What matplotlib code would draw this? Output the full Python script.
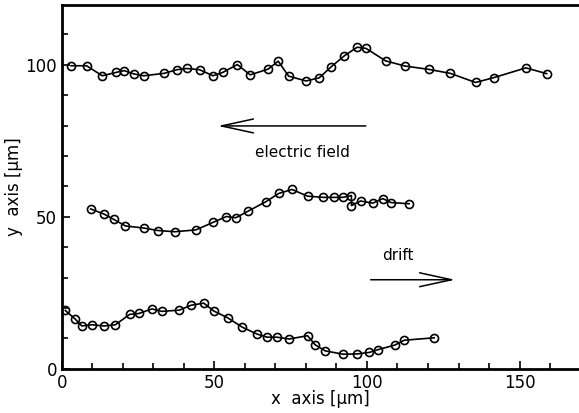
import numpy as np
import matplotlib
matplotlib.use('Agg')
import matplotlib.pyplot as plt
from matplotlib.ticker import MultipleLocator

# top track (y ~ 100)
x_top = [3.0, 8.1, 13.2, 17.7, 20.4, 23.6, 26.8, 33.5, 37.7, 40.9, 45.1, 49.5, 52.7,
         57.5, 61.7, 67.6, 70.9, 74.3, 80.0, 84.3, 88.2, 92.6, 96.8, 99.7, 106.1,
         112.5, 120.3, 127.3, 135.6, 141.6, 152.1, 158.9]
y_top = [99.7, 99.7, 96.4, 97.5, 98.1, 97.0, 96.4, 97.2, 98.4, 98.8, 98.4, 96.4, 97.5,
         100.1, 96.7, 98.6, 101.2, 96.3, 94.7, 95.7, 99.3, 103.0, 105.8, 105.4, 101.3,
         99.6, 98.5, 97.2, 94.2, 95.8, 99.0, 97.1]

# middle track (y ~ 50)
x_mid = [9.4, 13.8, 16.9, 20.8, 26.9, 31.4, 37.0, 43.9, 49.6, 53.9, 57.0, 60.9,
         66.9, 71.1, 75.4, 80.5, 85.7, 89.2, 92.0, 94.9, 94.9, 97.9, 101.9, 105.2,
         107.8, 113.8]
y_mid = [52.6, 50.9, 49.2, 47.0, 46.3, 45.5, 45.1, 45.7, 48.2, 50.1, 49.7, 51.8,
         55.0, 57.7, 59.0, 56.8, 56.4, 56.4, 56.4, 57.0, 53.7, 55.2, 54.5, 56.0,
         54.7, 54.3]

# bottom track (y ~ 15)
x_bot = [1.1, 4.4, 6.5, 9.8, 13.8, 17.5, 22.2, 25.2, 29.5, 32.8, 38.5, 42.3, 46.5,
         49.8, 54.3, 59.1, 64.0, 67.3, 70.5, 74.5, 80.5, 83.0, 86.3, 92.2, 96.8,
         100.8, 103.6, 109.1, 112.2, 122.0]
y_bot = [19.2, 16.3, 14.1, 14.5, 14.1, 14.5, 17.9, 18.2, 19.7, 18.9, 19.3, 20.9, 21.6,
         19.0, 16.8, 13.7, 11.4, 10.4, 10.4, 9.8, 10.9, 7.9, 5.9, 4.8, 4.9,
         5.4, 6.3, 7.8, 9.4, 10.2]

fig = plt.figure(figsize=(5.79, 4.13), dpi=100)
ax = fig.add_axes([0.107, 0.107, 0.893, 0.881])

for xs, ys in [(x_top, y_top), (x_mid, y_mid), (x_bot, y_bot)]:
    ax.plot(xs, ys, color='black', lw=1.2, marker='o', ms=5.8,
            mfc='none', mec='black', mew=1.2)

# arrows and labels
astyle = '->,head_length=2.3,head_width=0.5'
ax.annotate('', xy=(50.2, 79.9), xytext=(100.5, 79.9),
            arrowprops=dict(arrowstyle=astyle, color='black', lw=1.1))
ax.text(78.9, 71, 'electric field', ha='center', va='center', fontsize=11)
ax.annotate('', xy=(129.8, 29.3), xytext=(100.3, 29.3),
            arrowprops=dict(arrowstyle=astyle, color='black', lw=1.1))
ax.text(110, 37.2, 'drift', ha='center', va='center', fontsize=11)

ax.set_xlim(0, 169.5)
ax.set_ylim(0, 119.7)
ax.xaxis.set_major_locator(MultipleLocator(50))
ax.xaxis.set_minor_locator(MultipleLocator(10))
ax.yaxis.set_major_locator(MultipleLocator(50))
ax.yaxis.set_minor_locator(MultipleLocator(10))
ax.tick_params(which='both', direction='in', labelsize=12, width=1.2)
ax.tick_params(which='major', length=6)
ax.tick_params(which='minor', length=4)
ax.spines['right'].set_visible(False)
for s in ['left', 'bottom', 'top']:
    ax.spines[s].set_linewidth(2)

ax.set_xlabel('x  axis [µm]', fontsize=12, labelpad=-1)
ax.set_ylabel('y  axis [µm]', fontsize=12)
ax.yaxis.set_label_coords(-0.075, 0.5)

fig.savefig('out.png', dpi=100)
